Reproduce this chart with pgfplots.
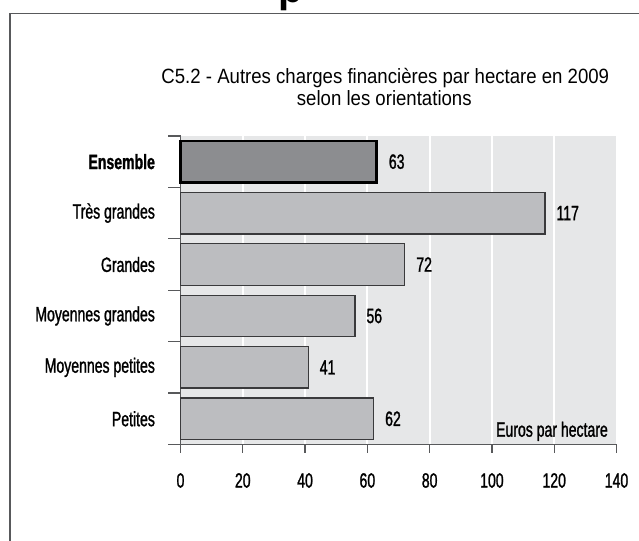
\documentclass[border=0pt]{standalone}
\usepackage{pgfplots}
\pgfplotsset{compat=1.18}
\usepackage{fontspec}
\setmainfont{Liberation Sans}
\newfontfamily\titlefont[FakeStretch=0.9]{Liberation Sans}
\newfontfamily\labfont[FakeStretch=0.68, FakeBold=1.2]{Liberation Sans}
\definecolor{bgc}{HTML}{E6E7E8}
\definecolor{barc}{HTML}{BCBDC0}
\definecolor{ensc}{HTML}{8C8D90}
\definecolor{bard}{HTML}{3A3A3C}
\definecolor{axisc}{HTML}{58595B}
\newcommand{\labsize}{\labfont\fontsize{15.5}{18}\selectfont}
\begin{document}
\begin{tikzpicture}[x=0.75pt,y=0.75pt]
\clip (0,0) rectangle (639,540);
\draw[color=axisc, line width=1.1pt] (10,-5) -- (10,526.5) -- (645,526.5);
\node[anchor=base, font=\bfseries\fontsize{30}{30}\selectfont, inner sep=0pt] at (291,537) {p};
\node[anchor=base, inner sep=0pt, font=\titlefont\fontsize{15.5}{17.25}\selectfont] at (385.3,456.5) {C5.2 - Autres charges financières par hectare en 2009};
\node[anchor=base, inner sep=0pt, font=\titlefont\fontsize{15.5}{17.25}\selectfont] at (384.3,434) {selon les orientations};
\begin{axis}[
  at={(135.375pt,71.625pt)}, anchor=south west,
  scale only axis, width=327pt, height=231.4pt,
  xmin=0, xmax=140, ymin=-0.5, ymax=5.5,
  /pgf/number format/assume math mode=true,
  axis x line*=bottom, axis y line*=left,
  axis line style={draw=axisc, line width=1pt, -},
  axis background/.style={fill=bgc},
  xtick={0,20,...,140},
  xmajorgrids, major grid style={white, line width=1.3pt},
  tick align=outside,
  major tick length=6pt,
  tick style={draw=axisc, line width=0.9pt},
  ytick={0,1,2,3,4,5},
  yticklabels={Petites,Moyennes petites,Moyennes grandes,Grandes,Très grandes,\bfseries Ensemble},
  ytick style={draw=none},
  extra y ticks={-0.5,0.5,1.5,2.5,3.5,4.5,5.5},
  extra y tick labels={},
  extra y tick style={ytick style={draw=axisc, line width=0.9pt}, major tick length=9pt},
  yticklabel style={font=\labsize, anchor=east, inner sep=0pt, xshift=-13pt},
  xticklabel style={font=\labsize, anchor=center, inner sep=0pt, yshift=-21pt},
  clip=false,
]
\addplot[xbar, bar width=31.1pt, bar shift=0pt, fill=barc, draw=bard, line width=1pt,
  nodes near coords, point meta=x,
  nodes near coords style={font=\labsize, anchor=west, inner sep=0pt, xshift=8.2pt, text=black}]
  coordinates {(62,0) (41,1) (56,2) (72,3) (117,4)};
\addplot[xbar, bar width=31.1pt, bar shift=0pt, fill=ensc, draw=black, line width=1.9pt,
  nodes near coords, point meta=x,
  nodes near coords style={font=\labsize, anchor=west, inner sep=0pt, xshift=8.2pt, text=black}]
  coordinates {(63,5)};
\node[anchor=base east, inner sep=0pt, font=\labsize] at (axis cs:137.3,-0.348) {Euros par hectare};
\end{axis}
\end{tikzpicture}
\end{document}
